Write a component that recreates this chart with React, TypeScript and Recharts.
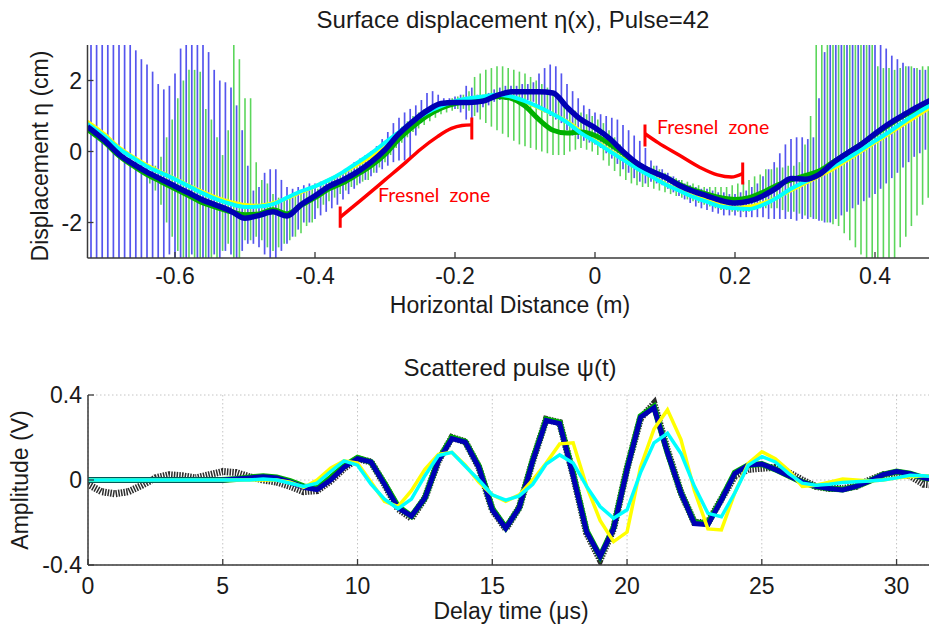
import React from 'react'
import { ComposedChart, Line, Scatter, ErrorBar, XAxis, YAxis, CartesianGrid } from 'recharts'

const FONT = '"Liberation Sans", Arial, Helvetica, sans-serif'
const AXIS = '#3a3a3a'

// ---- top panel: surface displacement eta(x), metres / cm ----
const surfX = [
  -0.725, -0.7, -0.68, -0.66, -0.64, -0.62, -0.6, -0.58, -0.56, -0.54, -0.52, -0.5, -0.48, -0.46, -0.44, -0.42,
  -0.4, -0.38, -0.36, -0.34, -0.32, -0.3, -0.28, -0.26, -0.24, -0.22, -0.2, -0.18, -0.16, -0.14, -0.12, -0.1,
  -0.08, -0.06, -0.04, -0.02, 0, 0.02, 0.04, 0.06, 0.08, 0.1, 0.12, 0.14, 0.16, 0.18, 0.2, 0.22, 0.24, 0.26,
  0.28, 0.3, 0.32, 0.34, 0.36, 0.38, 0.4, 0.42, 0.44, 0.46, 0.48,
]
const yellowEta = [
  0.85, 0.48, 0.12, -0.15, -0.38, -0.58, -0.76, -0.96, -1.14, -1.3, -1.42,
  -1.5, -1.52, -1.45, -1.32,
  -1.15, -0.98, -0.8, -0.6, -0.38, -0.15, 0.12, 0.42, 0.75, 1.02, 1.25,
  1.42, 1.5, 1.55, 1.58, 1.55, 1.4, 1.22, 1.05, 0.85, 0.57,
  0.32, 0.05, -0.2, -0.45, -0.68, -0.9, -1.08, -1.25, -1.38, -1.5, -1.58, -1.55, -1.45, -1.3, -1.1, -0.9, -0.7,
  -0.5, -0.25, 0, 0.25, 0.5, 0.75, 1.0, 1.25,
]
const greenEta = [
  0.62, 0.25, -0.12, -0.4, -0.65, -0.85, -1.05, -1.25, -1.45, -1.58, -1.7,
  -1.78, -1.76, -1.64, -1.76,
  -1.52, -1.3, -1.05, -0.88, -0.65, -0.4, -0.08, 0.35, 0.7, 1.0, 1.22,
  1.35, 1.4, 1.45, 1.55, 1.5, 1.28, 0.9, 0.6, 0.52, 0.55,
  0.45, 0.22, -0.05, -0.35, -0.55, -0.72, -0.92, -1.08, -1.2, -1.3, -1.35, -1.3, -1.15, -0.95, -0.8, -0.68, -0.55,
  -0.3, -0.05, 0.2, 0.48, 0.75, 1.0, 1.2, 1.4,
]
const cyanEta = [
  0.78, 0.42, 0.08, -0.18, -0.42, -0.6, -0.78, -0.98, -1.18, -1.35, -1.48,
  -1.56, -1.55, -1.48, -1.3,
  -1.12, -0.98, -0.8, -0.58, -0.32, -0.05, 0.25, 0.55, 0.85, 1.1, 1.28,
  1.42, 1.5, 1.55, 1.6, 1.55, 1.42, 1.25, 1.05, 0.82, 0.52,
  0.28, 0.02, -0.23, -0.48, -0.7, -0.92, -1.1, -1.28, -1.42, -1.55, -1.6, -1.62, -1.5, -1.3, -1.05, -0.85, -0.65,
  -0.42, -0.2, 0.05, 0.3, 0.55, 0.82, 1.08, 1.32,
]
const blueEta = [
  0.7, 0.3, -0.08, -0.35, -0.58, -0.78, -0.98, -1.17, -1.37, -1.52, -1.68,
  -1.88, -1.8, -1.7, -1.82,
  -1.5, -1.25, -0.98, -0.8, -0.58, -0.3, 0.05, 0.5, 0.85, 1.15, 1.35,
  1.38, 1.38, 1.42, 1.58, 1.68, 1.68, 1.68, 1.65, 1.25, 0.9,
  0.67, 0.38, 0, -0.33, -0.55, -0.72, -0.95, -1.12, -1.25, -1.38, -1.45, -1.4, -1.25, -1.02, -0.76, -0.78, -0.65,
  -0.32, -0.05, 0.2, 0.5, 0.78, 1.02, 1.25, 1.45,
]

// spread of the individual profiles (vertical bars), sampled every 8 mm
const blueBarStart = -0.72
const greenBarStart = -0.636
const barStep = 0.008
const blueBarHi = [
  3, 3, 3, 3, 3, 3, 3, 3, 2.85, 2.6,
  2.45, 2.25, 1.9, 1.75, 1.85, 2.2, 2.9, 3, 3, 3,
  3, 2.8, 2.3, 2.0, 1.95, 1.8, 1.3, 0.6, -0.4, -1.1,
  -1.0, -0.6, -0.5, -0.5, -0.8, -1.0, -1.05, -1.0, -0.95, -0.9,
  -0.9, -0.85, -0.8, -0.75, -0.65, -0.55, -0.45, -0.3, -0.2, -0.1,
  0, 0.15, 0.35, 0.55, 0.8, 0.95, 1.1, 1.2, 1.3, 1.45,
  1.65, 1.7, 1.6, 1.5, 1.5, 1.55, 1.6, 1.85, 1.8, 1.6,
  1.6, 1.65, 1.75, 1.8, 1.85, 1.85, 1.85, 1.9, 1.9, 1.95,
  2.2, 2.35, 2.45, 2.4, 2.2, 1.9, 1.7, 1.5, 1.3, 1.2,
  1.1, 1.05, 1.0, 0.95, 0.9, 0.75, 0.6, 0.45, 0.3, 0.1,
  -0.25, -0.4, -0.5, -0.6, -0.7, -0.8, -0.9, -0.95, -1.0, -1.05,
  -1.05, -1.1, -1.15, -1.15, -1.2, -1.2, -1.15, -1.1, -1.0, -0.9,
  -0.7, -0.5, -0.3, -0.05, 0.2, 0.35, 0.4, 0.4, 0.35, 0.4,
  1.5, 2.8, 3, 3, 3, 3, 3, 3, 3, 3,
  3, 3, 2.9, 2.7, 2.6, 2.5, 2.4, 2.35, 2.3, 2.3, 2.3,
]
const blueBarLo = [
  -3, -3, -3, -3, -3, -3, -3, -3, -3, -3,
  -3, -3, -3, -3, -2.9, -3, -3, -3, -2.9, -3,
  -3, -3, -2.9, -3, -2.8, -2.9, -3, -2.8, -2.6, -2.6,
  -2.7, -2.9, -3, -3, -2.8, -2.6, -2.4, -2.2, -2.0, -2.0,
  -1.9, -1.8, -1.7, -1.6, -1.5, -1.35, -1.2, -1.05, -0.9, -0.8,
  -0.7, -0.6, -0.5, -0.4, -0.3, -0.25, -0.25, -0.2, 0.45, 0.8,
  1.0, 1.05, 1.1, 1.2, 1.25, 1.2, 1.1, 0.9, 0.9, 1.1,
  1.25, 1.3, 1.4, 1.45, 1.45, 1.45, 1.5, 1.45, 1.45, 1.4,
  1.2, 1.1, 1.0, 0.9, 0.8, 0.6, 0.45, 0.35, 0.3, 0.25,
  0.2, 0.1, -0.05, -0.2, -0.35, -0.5, -0.6, -0.75, -0.85, -0.9,
  -0.85, -0.9, -0.95, -1.05, -1.15, -1.25, -1.35, -1.45, -1.55, -1.6,
  -1.65, -1.7, -1.75, -1.8, -1.8, -1.8, -1.85, -1.85, -1.85, -1.85,
  -1.85, -1.9, -1.9, -1.9, -1.9, -1.9, -1.95, -1.9, -1.9, -1.9,
  -1.95, -2.0, -2.0, -1.9, -1.8, -1.7, -1.6, -1.5, -1.4, -1.3,
  -1.2, -1.05, -0.9, -0.75, -0.6, -0.45, -0.3, -0.15, -0.05, 0.05, 0.1,
]
const greenBarHi = [
  -0.6, -0.4, -0.15, 0.4, 0.9, 1.5, 2.0, 2.3, 2.3, 2.25,
  1.2, 0.9, 0.4, -0.1, 0.6, 3.0, 2.6, 1.5, 1.5, -0.3,
  -0.8, -0.9, -1.2, -1.3, -1.3, -1.3, -1.25, -1.2, -1.1, -1.0,
  -1.05, -0.95, -0.85, -0.75, -0.65, -0.5, -0.4, -0.3, -0.2, -0.15,
  -0.2, 0, 0.15, 0.35, 0.55, 0.7, 0.85, 1.0, 1.1, 1.2,
  1.25, 1.35, 1.4, 1.45, 1.5, 1.55, 1.6, 1.7, 2.1, 2.2,
  2.3, 2.35, 2.4, 2.4, 2.35, 2.3, 2.25, 2.2, 2.1, 2.0,
  1.9, 1.8, 1.65, 1.5, 1.35, 1.25, 1.15, 1.1, 1.05, 1.0,
  0.9, 0.8, 0.6, 0.4, 0.2, 0, -0.15, -0.25, -0.35, -0.45,
  -0.4, -0.5, -0.6, -0.7, -0.75, -0.8, -0.85, -0.9, -0.95, -1.0,
  -1.0, -1.0, -1.0, -1.0, -0.95, -0.9, -0.85, -0.8, -0.7, -0.65,
  -0.5, -0.5, -0.45, -0.45, -0.4, -0.4, -0.3, 0.2, 1.0, 3.0,
  3, 3, 3, 3, 3, 3, 3, 3, 3, 3,
  2.4, 2.35, 2.35, 2.3, 2.35, 2.4, 2.4, 2.35, 2.4, 2.4,
]
const greenBarLo = [
  -0.9, -1.1, -1.5, -2.0, -2.4, -2.8, -3, -3, -3, -3,
  -3, -3, -3, -2.8, -2.6, -3, -3, -2.5, -2.5, -2.4,
  -2.5, -2.7, -2.8, -2.7, -2.6, -2.5, -2.4, -2.3, -2.1, -2.0,
  -1.6, -1.5, -1.4, -1.3, -1.2, -1.1, -1.0, -0.95, -0.85, -0.8,
  -0.6, -0.45, -0.3, -0.1, 0.1, 0.25, 0.4, 0.55, 0.65, 0.75,
  0.85, 0.95, 1.05, 1.1, 1.15, 1.2, 1.2, 1.15, 1.0, 0.9,
  0.8, 0.7, 0.6, 0.5, 0.4, 0.3, 0.2, 0.15, 0.1, 0.05,
  0, -0.05, -0.1, -0.1, -0.1, 0, 0.05, 0.1, 0.05, 0,
  -0.1, -0.25, -0.4, -0.55, -0.7, -0.8, -0.9, -0.95, -1.0, -1.0,
  -1.05, -1.1, -1.15, -1.2, -1.25, -1.3, -1.35, -1.4, -1.45, -1.5,
  -1.55, -1.6, -1.65, -1.65, -1.7, -1.7, -1.7, -1.7, -1.65, -1.6,
  -1.6, -1.6, -1.6, -1.65, -1.7, -1.7, -1.75, -1.8, -1.85, -1.9,
  -1.95, -2.0, -2.05, -2.1, -2.3, -2.5, -2.7, -2.9, -3, -3,
  -3, -3, -3, -3, -2.7, -2.4, -2.1, -1.8, -1.5, -1.3,
]

// red "Fresnel zone" brackets
const fresnelAX = [-0.364, -0.33, -0.3, -0.27, -0.25, -0.225, -0.205, -0.19, -0.176]
const fresnelAY = [-1.85, -1.3, -0.8, -0.3, 0.05, 0.42, 0.65, 0.73, 0.75]
const fresnelBX = [0.0714, 0.09, 0.12, 0.15, 0.175, 0.195, 0.211]
const fresnelBY = [0.5, 0.25, -0.1, -0.45, -0.66, -0.72, -0.62]
const capAStartY = [-1.55, -2.15]
const capAEndY = [0.96, 0.34]
const capBStartY = [0.76, 0.14]
const capBEndY = [-0.31, -0.93]

const surfTicksX = [-0.6, -0.4, -0.2, 0, 0.2, 0.4]
const surfTicksY = [-2, 0, 2]

// ---- bottom panel: scattered pulse psi(t), sampled every 0.5 us ----
const pulseStep = 0.5
const blackPsi = [
  -0.02, -0.055, -0.065, -0.055, -0.025, 0.01, 0.025, 0.02, 0.01, 0.025,
  0.04, 0.035, 0.015, 0, -0.01, -0.03, -0.055, -0.05, -0.005, 0.055,
  0.1, 0.085, -0.02, -0.135, -0.18, -0.085, 0.09, 0.2, 0.18, 0.06,
  -0.14, -0.23, -0.13, 0.09, 0.285, 0.27, 0.025, -0.25, -0.375, -0.23,
  0.055, 0.29, 0.36, 0.14, -0.06, -0.2, -0.2, -0.09, 0.02, 0.05,
  0.055, 0.06, 0.035, 0, -0.03, -0.04, -0.04, -0.03, 0, 0.025,
  0.03, 0.02, -0.02, -0.025,
]
const greenPsi = [
  0, 0, 0, 0, 0, 0, 0, 0, 0, 0,
  0, 0.005, 0.012, 0.018, 0.012, -0.005, -0.03, -0.04, 0.01, 0.065,
  0.105, 0.085, -0.015, -0.125, -0.17, -0.085, 0.095, 0.2, 0.18, 0.065,
  -0.135, -0.225, -0.13, 0.095, 0.285, 0.27, 0.03, -0.24, -0.36, -0.225,
  0.055, 0.3, 0.345, 0.13, -0.06, -0.2, -0.205, -0.09, 0.035, 0.07,
  0.075, 0.05, 0.02, -0.01, -0.03, -0.04, -0.045, -0.03, -0.005, 0.025,
  0.04, 0.03, 0.01, 0,
]
const bluePsi = [
  0, 0, 0, 0, 0, 0, 0, 0, 0, 0,
  0, 0.005, 0.01, 0.015, 0.01, -0.01, -0.035, -0.045, 0, 0.06,
  0.1, 0.085, -0.02, -0.13, -0.17, -0.085, 0.09, 0.195, 0.178, 0.06,
  -0.14, -0.227, -0.13, 0.09, 0.28, 0.265, 0.02, -0.245, -0.36, -0.23,
  0.05, 0.295, 0.34, 0.13, -0.06, -0.205, -0.21, -0.094, 0.031, 0.07,
  0.075, 0.05, 0.02, -0.01, -0.03, -0.04, -0.047, -0.03, -0.005, 0.025,
  0.04, 0.03, 0.01, 0,
]
const yellowPsi = [
  0, 0, 0, 0, 0, 0, 0, 0, 0, 0,
  0, 0, 0, 0, 0, -0.01, -0.035, 0, 0.055, 0.09,
  0.08, -0.01, -0.1, -0.125, -0.05, 0.05, 0.12, 0.13, 0.07, -0.01,
  -0.07, -0.1, -0.07, 0, 0.08, 0.17, 0.175, -0.03, -0.19, -0.29,
  -0.245, 0.06, 0.24, 0.33, 0.19, -0.05, -0.23, -0.235, -0.06, 0.078,
  0.133, 0.1, 0.045, -0.03, -0.025, -0.01, 0.005, 0, -0.005, 0,
  0.01, 0.015, 0.02, 0.02,
]
const cyanPsi = [
  0, 0, 0, 0, 0, 0, 0, 0, 0, 0,
  0, 0, 0, 0.005, 0, -0.015, -0.03, -0.015, 0.04, 0.09,
  0.07, -0.02, -0.09, -0.135, -0.09, 0.02, 0.115, 0.13, 0.065, 0,
  -0.07, -0.095, -0.075, -0.02, 0.075, 0.118, 0.08, -0.03, -0.125, -0.18,
  -0.14, 0.035, 0.175, 0.22, 0.125, -0.03, -0.157, -0.173, -0.06, 0.07,
  0.11, 0.085, 0.03, -0.015, -0.025, -0.02, -0.012, -0.008, -0.005, 0,
  0.01, 0.022, 0.02, 0.015,
]
const pulseTicksX = [0, 5, 10, 15, 20, 25, 30]
const pulseTicksY = [-0.4, 0, 0.4]

// ---- helpers ----
const toPts = (xs: number[], ys: number[]) => xs.map((x, i) => ({ x, y: ys[i] }))
const toSampled = (step: number, ys: number[]) => ys.map((y, i) => ({ x: i * step, y }))
const toBars = (x0: number, hi: number[], lo: number[]) =>
  hi.map((h, i) => ({ x: x0 + barStep * i, y: (h + lo[i]) / 2, err: (h - lo[i]) / 2 }))

const tickFont = { fontFamily: FONT, fontSize: 23, fill: '#1a1a1a' }

const bottomTick = (labelDy: number) => (props: any) => {
  const { x, y, payload } = props
  return (
    <g>
      <line x1={x} y1={y} x2={x} y2={y - 6} stroke={AXIS} strokeWidth={1.3} />
      <text x={x} y={y + labelDy} textAnchor="middle" {...tickFont}>
        {payload.value}
      </text>
    </g>
  )
}
const topTick = (props: any) => {
  const { x, y } = props
  return <line x1={x} y1={y} x2={x} y2={y + 6} stroke={AXIS} strokeWidth={1.3} />
}
const leftTick = (gap: number) => (props: any) => {
  const { x, y, payload } = props
  return (
    <g>
      <line x1={x} y1={y} x2={x + 6} y2={y} stroke={AXIS} strokeWidth={1.3} />
      <text x={x - gap} y={y + 8} textAnchor="end" {...tickFont}>
        {payload.value}
      </text>
    </g>
  )
}
const rightTick = (props: any) => {
  const { x, y } = props
  return <line x1={x} y1={y} x2={x - 6} y2={y} stroke={AXIS} strokeWidth={1.3} />
}

const emptyShape = () => <g />

const label = (extra: React.CSSProperties): React.CSSProperties => ({
  position: 'absolute',
  fontFamily: FONT,
  color: '#1a1a1a',
  whiteSpace: 'nowrap',
  lineHeight: 1,
  ...extra,
})

const SURF_DOMAIN: [number, number] = [-0.725, 0.48]
const axisLine = { stroke: AXIS, strokeWidth: 1.5 }

function SurfacePanel() {
  const lineProps = { dataKey: 'y', dot: false, type: 'monotone' as const, isAnimationActive: false }
  return (
    <ComposedChart width={940} height={320} margin={{ top: 45, right: 9, left: 27.5, bottom: 0 }}>
      <XAxis
        dataKey="x"
        type="number"
        domain={SURF_DOMAIN}
        ticks={surfTicksX}
        allowDataOverflow
        height={62}
        axisLine={axisLine}
        tickLine={false}
        tickSize={0}
        tickMargin={0}
        tick={bottomTick(26)}
        interval={0}
      />
      <XAxis
        xAxisId="top"
        orientation="top"
        dataKey="x"
        type="number"
        domain={SURF_DOMAIN}
        ticks={surfTicksX}
        allowDataOverflow
        height={0}
        axisLine={axisLine}
        tickLine={false}
        tickSize={0}
        tickMargin={0}
        tick={topTick}
        interval={0}
      />
      <YAxis
        dataKey="y"
        type="number"
        domain={[-3, 3]}
        ticks={surfTicksY}
        allowDataOverflow
        width={60}
        axisLine={axisLine}
        tickLine={false}
        tickSize={0}
        tickMargin={0}
        tick={leftTick(5.5)}
        interval={0}
      />
      <YAxis
        yAxisId="right"
        orientation="right"
        type="number"
        domain={[-3, 3]}
        ticks={surfTicksY}
        width={0}
        axisLine={axisLine}
        tickLine={false}
        tickSize={0}
        tickMargin={0}
        tick={rightTick}
        interval={0}
      />

      <Scatter data={toBars(blueBarStart, blueBarHi, blueBarLo)} dataKey="y" shape={emptyShape} isAnimationActive={false}>
        <ErrorBar dataKey="err" direction="y" width={0} stroke="#5555ee" strokeWidth={1.7} isAnimationActive={false} />
      </Scatter>
      <Scatter data={toBars(greenBarStart, greenBarHi, greenBarLo)} dataKey="y" shape={emptyShape} isAnimationActive={false}>
        <ErrorBar dataKey="err" direction="y" width={0} stroke="#5cd65c" strokeWidth={1.6} isAnimationActive={false} />
      </Scatter>

      <Line {...lineProps} data={toPts(surfX, yellowEta)} stroke="#ffff00" strokeWidth={3.5} />
      <Line {...lineProps} data={toPts(surfX, greenEta)} stroke="#00b000" strokeWidth={5} />
      <Line {...lineProps} data={toPts(surfX, cyanEta)} stroke="#00ffff" strokeWidth={4} />
      <Line {...lineProps} data={toPts(surfX, blueEta)} stroke="#0000b4" strokeWidth={5.5} />

      <Line {...lineProps} data={toPts(fresnelAX, fresnelAY)} stroke="#ff0000" strokeWidth={3.5} />
      <Line {...lineProps} data={toPts(fresnelBX, fresnelBY)} stroke="#ff0000" strokeWidth={3.5} />
      <Line {...lineProps} type="linear" data={toPts([fresnelAX[0], fresnelAX[0]], capAStartY)} stroke="#ff0000" strokeWidth={3} />
      <Line {...lineProps} type="linear" data={toPts([fresnelAX[8], fresnelAX[8]], capAEndY)} stroke="#ff0000" strokeWidth={3} />
      <Line {...lineProps} type="linear" data={toPts([fresnelBX[0], fresnelBX[0]], capBStartY)} stroke="#ff0000" strokeWidth={3} />
      <Line {...lineProps} type="linear" data={toPts([fresnelBX[6], fresnelBX[6]], capBEndY)} stroke="#ff0000" strokeWidth={3} />
    </ComposedChart>
  )
}

const PULSE_DOMAIN: [number, number] = [0, 31.5]

function PulsePanel() {
  const lineProps = { dataKey: 'y', dot: false, type: 'linear' as const, isAnimationActive: false }
  return (
    <ComposedChart width={945} height={285} margin={{ top: 55, right: 8, left: 28, bottom: 0 }}>
      <CartesianGrid stroke="#c4c4c4" strokeDasharray="1.5 2.5" strokeWidth={1} />
      <XAxis
        dataKey="x"
        type="number"
        domain={PULSE_DOMAIN}
        ticks={pulseTicksX}
        allowDataOverflow
        height={60}
        axisLine={axisLine}
        tickLine={false}
        tickSize={0}
        tickMargin={0}
        tick={bottomTick(29)}
        interval={0}
      />
      <XAxis
        xAxisId="top"
        orientation="top"
        dataKey="x"
        type="number"
        domain={PULSE_DOMAIN}
        ticks={pulseTicksX}
        allowDataOverflow
        height={0}
        axisLine={axisLine}
        tickLine={false}
        tickSize={0}
        tickMargin={0}
        tick={topTick}
        interval={0}
      />
      <YAxis
        dataKey="y"
        type="number"
        domain={[-0.4, 0.4]}
        ticks={pulseTicksY}
        allowDataOverflow
        width={60}
        axisLine={axisLine}
        tickLine={false}
        tickSize={0}
        tickMargin={0}
        tick={leftTick(6)}
        interval={0}
      />
      <Line {...lineProps} data={toSampled(pulseStep, blackPsi)} stroke="#2e2e2e" strokeWidth={7} strokeDasharray="1.5 1.2" />
      <Line {...lineProps} data={toSampled(pulseStep, greenPsi)} stroke="#00b000" strokeWidth={6} />
      <Line {...lineProps} data={toSampled(pulseStep, bluePsi)} stroke="#0000b4" strokeWidth={5} />
      <Line {...lineProps} data={toSampled(pulseStep, yellowPsi)} stroke="#ffff00" strokeWidth={3.5} />
      <Line {...lineProps} data={toSampled(pulseStep, cyanPsi)} stroke="#00ffff" strokeWidth={3.5} />
    </ComposedChart>
  )
}

export default function App() {
  return (
    <div style={{ position: 'absolute', left: 0, top: 0, width: 929, height: 629, overflow: 'hidden', background: '#fff' }}>
      <div style={{ position: 'absolute', left: 0, top: 0 }}>
        <SurfacePanel />
      </div>
      <div style={{ position: 'absolute', left: 0, top: 340 }}>
        <PulsePanel />
      </div>

      <div style={label({ fontSize: 24, left: 513, top: 8, transform: 'translateX(-50%)' })}>
        Surface displacement η(x), Pulse=42
      </div>
      <div style={label({ fontSize: 23, left: 510, top: 294, transform: 'translateX(-50%)' })}>Horizontal Distance (m)</div>
      <div style={label({ fontSize: 23, left: 40, top: 156, transform: 'translate(-50%, -50%) rotate(-90deg)' })}>
        Displacement η (cm)
      </div>

      <div style={label({ fontSize: 24, left: 510, top: 356, transform: 'translateX(-50%)' })}>Scattered pulse ψ(t)</div>
      <div style={label({ fontSize: 23, left: 511, top: 600, transform: 'translateX(-50%)' })}>Delay time (μs)</div>
      <div style={label({ fontSize: 23, left: 20, top: 480, transform: 'translate(-50%, -50%) rotate(-90deg)' })}>
        Amplitude (V)
      </div>

      <div style={label({ fontFamily: 'Lato, "Open Sans", sans-serif', fontSize: 19.5, color: '#ff0000', left: 378, top: 185 })}>
        Fresnel&nbsp; zone
      </div>
      <div style={label({ fontFamily: 'Lato, "Open Sans", sans-serif', fontSize: 19.5, color: '#ff0000', left: 657, top: 117 })}>
        Fresnel&nbsp; zone
      </div>
    </div>
  )
}
